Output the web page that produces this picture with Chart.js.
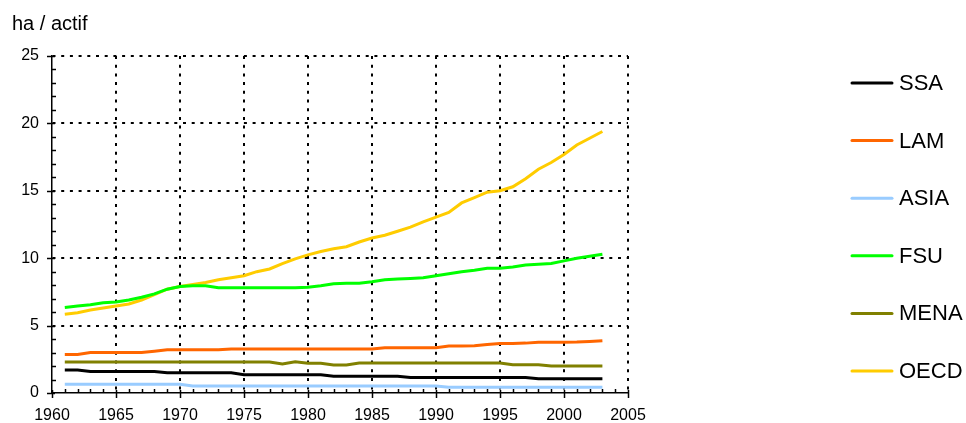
<!DOCTYPE html>
<html>
<head>
<meta charset="utf-8">
<script src="https://cdn.jsdelivr.net/npm/chart.js@4/dist/chart.umd.min.js"></script>
<style>
  html, body { margin: 0; padding: 0; background: #ffffff; }
  #wrap { width: 966px; height: 423px; }
</style>
</head>
<body>
<div id="wrap"><canvas id="c" width="966" height="423"></canvas></div>
<script>
// ---- data ----
const years = [];
for (let y = 1961; y <= 2003; y++) years.push(y);

const seriesNames = ['SSA', 'LAM', 'ASIA', 'FSU', 'MENA', 'OECD'];
const seriesColors = ['#000000', '#FF6600', '#99CCFF', '#00FF00', '#808000', '#FFCC00'];

const SSA = [1.7,1.7,1.6,1.6,1.6,1.6,1.6,1.6,
  1.5,1.5,1.5,1.5,1.5,1.5,
  1.35,1.35,1.35,1.35,1.35,1.35,1.35,
  1.25,1.25,1.25,1.25,1.25,1.25,
  1.15,1.15,1.15,1.15,1.15,1.15,1.15,1.15,1.15,1.15,
  1.05,1.05,1.05,1.05,1.05,1.05];

const LAM = [2.85,2.85,3.0,3.0,3.0,3.0,3.0,3.1,3.2,3.2,3.2,3.2,3.2,3.27,
  3.27,3.27,3.27,3.27,3.27,3.27,3.27,3.27,3.27,3.27,3.27,
  3.36,3.36,3.36,3.36,3.36,
  3.49,3.49,3.5,3.6,3.68,3.68,3.7,3.77,3.77,3.77,3.78,3.82,3.88];

const ASIA = [0.65,0.65,0.65,0.65,0.65,0.65,0.65,0.65,0.65,0.65,
  0.52,0.52,0.52,0.52,0.52,0.52,0.52,0.52,0.52,0.52,
  0.52,0.52,0.52,0.52,0.52,0.52,0.52,0.52,0.52,0.52,
  0.43,0.43,0.43,0.43,0.43,0.43,0.43,0.43,0.43,0.43,0.43,0.43,0.43];

const FSU = [6.35,6.45,6.55,6.7,6.75,6.9,7.1,7.35,7.7,7.9,
  7.95,7.95,7.8,7.8,7.8,7.8,7.8,7.8,7.8,7.85,
  7.95,8.1,8.15,8.15,8.25,8.4,8.45,8.5,8.55,8.7,
  8.85,9.0,9.1,9.25,9.25,9.35,9.5,9.55,9.6,9.8,
  10.0,10.15,10.3];

const MENA = [2.3,2.3,2.3,2.3,2.3,2.3,2.3,2.3,2.3,2.3,2.3,2.3,2.3,2.3,2.3,2.3,2.3,
  2.15,2.32,2.2,2.2,2.08,2.08,
  2.22,2.22,2.22,2.22,2.22,2.22,2.22,2.22,2.22,2.22,2.22,2.22,
  2.1,2.1,2.1,
  2.0,2.0,2.0,2.0,2.0];

const OECD = [5.85,5.95,6.15,6.3,6.45,6.6,6.9,7.3,7.7,7.9,
  8.05,8.2,8.4,8.55,8.7,9.0,9.2,9.6,9.95,10.25,
  10.5,10.7,10.85,11.2,11.5,11.7,12.0,12.3,12.7,13.05,
  13.4,14.1,14.5,14.9,15.0,15.3,15.9,16.6,17.1,17.7,
  18.4,18.9,19.4];

const xTicks = [1960, 1965, 1970, 1975, 1980, 1985, 1990, 1995, 2000, 2005];
const yTicks = [0, 5, 10, 15, 20, 25];
const yTitle = 'ha / actif';

const seriesValues = [SSA, LAM, ASIA, FSU, MENA, OECD];

const FONT = '"Liberation Sans", Arial, Helvetica, sans-serif';

const datasets = seriesNames.map((name, i) => ({
  label: name,
  data: years.map((yr, k) => ({ x: yr, y: seriesValues[i][k] })),
  borderColor: seriesColors[i],
  backgroundColor: seriesColors[i],
  borderWidth: 3,
  pointRadius: 0,
  tension: 0,
  fill: false
}));

// ---- custom drawing: axis title, tick marks, legend ----
const decorPlugin = {
  id: 'decor',
  afterDraw(chart) {
    const ctx = chart.ctx;
    const xs = chart.scales.x, ys = chart.scales.y;
    const area = chart.chartArea;
    ctx.save();
    ctx.strokeStyle = '#000';
    ctx.lineWidth = 1.5;
    ctx.setLineDash([]);
    // y minor/major ticks
    for (let v = ys.min; v <= ys.max; v += 1) {
      const py = Math.round(ys.getPixelForValue(v)) + 0.5;
      const major = yTicks.includes(v);
      ctx.beginPath();
      ctx.moveTo(area.left - (major ? 5 : 0), py);
      ctx.lineTo(area.left + (major ? 3 : 4), py);
      ctx.stroke();
    }
    // x minor/major ticks
    for (let v = xs.min; v <= xs.max; v += 1) {
      const px = Math.round(xs.getPixelForValue(v)) + 0.5;
      const major = xTicks.includes(v);
      ctx.beginPath();
      ctx.moveTo(px, area.bottom + (major ? 5 : 0));
      ctx.lineTo(px, area.bottom - (major ? 3 : 4));
      ctx.stroke();
    }
    // y title
    ctx.fillStyle = '#000';
    ctx.font = '20px ' + FONT;
    ctx.textAlign = 'left';
    ctx.textBaseline = 'alphabetic';
    ctx.fillText(yTitle, 12, 30);
    // legend
    ctx.font = '22px ' + FONT;
    ctx.textBaseline = 'middle';
    chart.data.datasets.forEach((ds, i) => {
      const ly = 83 + i * 57.6;
      ctx.strokeStyle = ds.borderColor;
      ctx.lineWidth = 3;
      ctx.lineCap = 'round';
      ctx.beginPath();
      ctx.moveTo(852, ly);
      ctx.lineTo(892, ly);
      ctx.stroke();
      ctx.fillStyle = '#000';
      ctx.fillText(ds.label, 899, ly + 1);
    });
    ctx.restore();
  }
};

const gridColor = (skipVal) => (c) => (c.tick && c.tick.value === skipVal) ? 'rgba(0,0,0,0)' : '#000';

new Chart(document.getElementById('c'), {
  type: 'line',
  data: { datasets },
  options: {
    responsive: false,
    animation: false,
    devicePixelRatio: 1,
    layout: { padding: { left: 0, top: 56, right: 338, bottom: 0 } },
    plugins: { legend: { display: false }, tooltip: { enabled: false } },
    scales: {
      x: {
        type: 'linear',
        min: 1960, max: 2005,
        afterFit(s) { s.height = 30; },
        afterBuildTicks(s) { s.ticks = xTicks.map(v => ({ value: v })); },
        ticks: {
          color: '#000',
          font: { family: FONT, size: 16 },
          padding: 13,
          maxRotation: 0,
          autoSkip: false,
          callback: (v) => String(v)
        },
        grid: { color: gridColor(1960), lineWidth: 2, drawTicks: false },
        border: { display: true, color: '#000', width: 1.5, dash: [3, 5.7] }
      },
      y: {
        min: 0, max: 25,
        afterFit(s) { s.width = 52; },
        afterBuildTicks(s) { s.ticks = yTicks.map(v => ({ value: v })); },
        ticks: {
          color: '#000',
          font: { family: FONT, size: 16 },
          padding: 13,
          callback: (v) => String(v)
        },
        grid: { color: gridColor(0), lineWidth: 2, drawTicks: false },
        border: { display: true, color: '#000', width: 1.5, dash: [3, 5.7] }
      }
    }
  },
  plugins: [decorPlugin]
});
</script>
</body>
</html>
